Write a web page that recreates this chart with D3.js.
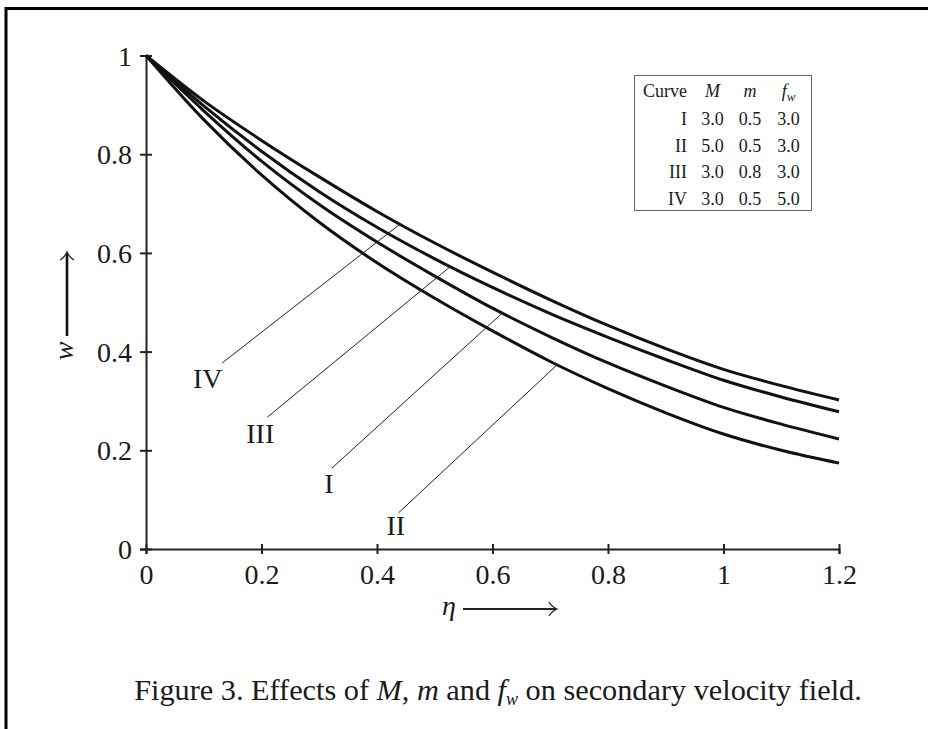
<!DOCTYPE html>
<html>
<head>
<meta charset="utf-8">
<script src="https://cdn.jsdelivr.net/npm/d3@7"></script>
<style>
  body { margin: 0; background: #fff; }
  svg { display: block; }
  text { font-family: "Liberation Serif", "DejaVu Serif", serif; fill: #1a1a1a; }
</style>
</head>
<body>
<div id="chart"></div>
<script>
var eta = [0, 0.1, 0.2, 0.3, 0.4, 0.5, 0.6, 0.7, 0.8, 0.9, 1.0, 1.1, 1.2];
// secondary velocity w for each curve
var curveI   = [1, 0.888, 0.786, 0.698, 0.622, 0.553, 0.488, 0.430, 0.377, 0.330, 0.287, 0.253, 0.223];
var curveII  = [1, 0.870, 0.758, 0.662, 0.580, 0.508, 0.442, 0.380, 0.325, 0.276, 0.233, 0.200, 0.174];
var curveIII = [1, 0.898, 0.806, 0.724, 0.652, 0.588, 0.530, 0.477, 0.429, 0.384, 0.342, 0.308, 0.278];
var curveIV  = [1, 0.908, 0.828, 0.754, 0.684, 0.620, 0.561, 0.505, 0.453, 0.406, 0.364, 0.331, 0.302];

var curveNames = ["I", "II", "III", "IV"];
var curveValues = [curveI, curveII, curveIII, curveIV];

// legend table
var tableHeader = ["Curve", "M", "m", "f"];
var tableM  = ["3.0", "5.0", "3.0", "3.0"];
var tableSm = ["0.5", "0.5", "0.8", "0.5"];
var tableFw = ["3.0", "3.0", "3.0", "5.0"];

// leader lines: label end (eta, w) and the eta where the leader touches its curve
var leaderStartEta = [0.322, 0.437, 0.210, 0.132];
var leaderStartW   = [0.164, 0.073, 0.267, 0.377];
var leaderEndEta   = [0.617, 0.712, 0.527, 0.440];

var xTicks = [0, 0.2, 0.4, 0.6, 0.8, 1, 1.2];
var yTicks = [0, 0.2, 0.4, 0.6, 0.8, 1];

var width = 928, height = 729;

var svg = d3.select("#chart")
	.append("svg")
	.attr("width", width)
	.attr("height", height);

// page frame (top and left edge of the scanned box)
svg.append("path")
	.attr("d", "M6," + height + "V8.5H" + width)
	.attr("fill", "none")
	.attr("stroke", "#000")
	.attr("stroke-width", 3);

var x = d3.scaleLinear().domain([0, 1.2]).range([146, 839]);
var y = d3.scaleLinear().domain([0, 1]).range([549, 55.5]);

// x axis
var xAxis = svg.append("g")
	.attr("transform", "translate(0," + y(0) + ")")
	.call(d3.axisBottom(x).tickValues(xTicks).tickSizeOuter(0).tickSize(5).tickFormat(function(d) { return String(d); }));
xAxis.select(".domain").attr("stroke", "#222").attr("stroke-width", 2);
xAxis.selectAll(".tick line").attr("y1", -5).attr("y2", 5).attr("stroke", "#222").attr("stroke-width", 2);
xAxis.selectAll(".tick text")
	.attr("y", 35).attr("dy", null)
	.style("font-size", "28px").style("font-family", "Liberation Serif").attr("fill", "#1a1a1a");

// y axis
var yAxis = svg.append("g")
	.attr("transform", "translate(" + x(0) + ",0)")
	.call(d3.axisLeft(y).tickValues(yTicks).tickSizeOuter(0).tickSize(6).tickFormat(function(d) { return String(d); }));
yAxis.select(".domain").attr("stroke", "#222").attr("stroke-width", 2);
yAxis.selectAll(".tick line").attr("x1", -6).attr("x2", 6).attr("stroke", "#222").attr("stroke-width", 2);
yAxis.selectAll(".tick text")
	.attr("x", -14).attr("dy", "0.34em")
	.style("font-size", "28px").style("font-family", "Liberation Serif").attr("fill", "#1a1a1a");

// axis titles with long arrows
svg.append("text")
	.attr("x", 449).attr("y", 615)
	.attr("text-anchor", "middle")
	.style("font-size", "28px").style("font-style", "italic")
	.text("η");
svg.append("line")
	.attr("x1", 463).attr("x2", 556).attr("y1", 609).attr("y2", 609)
	.attr("stroke", "#222").attr("stroke-width", 1.8);
svg.append("path")
	.attr("d", "M549,602 Q552,607 557,609 Q552,611 549,616")
	.attr("fill", "none").attr("stroke", "#222").attr("stroke-width", 1.3);

svg.append("text")
	.attr("transform", "translate(73,351) rotate(-90)")
	.attr("text-anchor", "middle")
	.style("font-size", "28px").style("font-style", "italic")
	.text("w");
svg.append("line")
	.attr("x1", 67).attr("x2", 67).attr("y1", 336).attr("y2", 253)
	.attr("stroke", "#111").attr("stroke-width", 2.6);
svg.append("path")
	.attr("d", "M60,260 Q65,257 67,252 Q69,257 74,260")
	.attr("fill", "none").attr("stroke", "#222").attr("stroke-width", 1.3);

// the four curves
var line = d3.line()
	.x(function(d) { return x(d[0]); })
	.y(function(d) { return y(d[1]); })
	.curve(d3.curveMonotoneX);

svg.selectAll(".curve")
	.data(curveValues)
	.enter().append("path")
	.attr("class", "curve")
	.attr("d", function(vals) { return line(vals.map(function(v, i) { return [eta[i], v]; })); })
	.attr("fill", "none")
	.attr("stroke", "#111")
	.attr("stroke-width", 3)
	.attr("stroke-linejoin", "round");

// w on a curve at any eta (linear between read points)
function valueAt(vals, e) {
	var i = d3.bisectRight(eta, e) - 1;
	if (i >= eta.length - 1) return vals[vals.length - 1];
	var t = (e - eta[i]) / (eta[i + 1] - eta[i]);
	return vals[i] + t * (vals[i + 1] - vals[i]);
}

// leader lines and roman labels
var labelDx = [-3, -2.5, -7, -14.5];
var labelDy = [25, 22, 26, 25];
curveNames.forEach(function(name, i) {
	var x0 = x(leaderStartEta[i]), y0 = y(leaderStartW[i]);
	var x1 = x(leaderEndEta[i]), y1 = y(valueAt(curveValues[i], leaderEndEta[i]));
	svg.append("line")
		.attr("x1", x0).attr("y1", y0).attr("x2", x1).attr("y2", y1)
		.attr("stroke", "#222").attr("stroke-width", 1);
	svg.append("text")
		.attr("x", x0 + labelDx[i]).attr("y", y0 + labelDy[i])
		.attr("text-anchor", "middle")
		.style("font-size", "28px")
		.text(name);
});

// legend table
var tbl = svg.append("g").attr("class", "legend");
tbl.append("rect")
	.attr("x", 634.5).attr("y", 75.5).attr("width", 177).attr("height", 135)
	.attr("fill", "#fff").attr("stroke", "#666").attr("stroke-width", 1);

var colX = [687, 712.5, 750, 788.5];
var rowY = [96.5, 125, 151.7, 178.3, 205];

tbl.append("text").attr("x", colX[0]).attr("y", rowY[0]).attr("text-anchor", "end")
	.style("font-size", "18px").text(tableHeader[0]);
tbl.append("text").attr("x", colX[1]).attr("y", rowY[0]).attr("text-anchor", "middle")
	.style("font-size", "18px").style("font-style", "italic").text(tableHeader[1]);
tbl.append("text").attr("x", colX[2]).attr("y", rowY[0]).attr("text-anchor", "middle")
	.style("font-size", "18px").style("font-style", "italic").text(tableHeader[2]);
var fh = tbl.append("text").attr("x", colX[3]).attr("y", rowY[0]).attr("text-anchor", "middle")
	.style("font-size", "18px").style("font-style", "italic");
fh.append("tspan").text(tableHeader[3]);
fh.append("tspan").attr("dy", 4).style("font-size", "13px").text("w");

curveNames.forEach(function(name, i) {
	var ry = rowY[i + 1];
	tbl.append("text").attr("x", colX[0]).attr("y", ry).attr("text-anchor", "end")
		.style("font-size", "18px").text(name);
	[tableM[i], tableSm[i], tableFw[i]].forEach(function(v, j) {
		tbl.append("text").attr("x", colX[j + 1]).attr("y", ry).attr("text-anchor", "middle")
			.style("font-size", "18px").text(v);
	});
});

// caption
var cap = svg.append("text")
	.attr("x", 498).attr("y", 700)
	.attr("text-anchor", "middle")
	.style("font-size", "26px");
cap.append("tspan").text("Figure 3. Effects of ");
cap.append("tspan").style("font-style", "italic").text("M");
cap.append("tspan").text(", ");
cap.append("tspan").style("font-style", "italic").text("m");
cap.append("tspan").text(" and ");
cap.append("tspan").style("font-style", "italic").text("f");
cap.append("tspan").style("font-style", "italic").style("font-size", "18px").attr("dy", 5).text("w");
cap.append("tspan").attr("dy", -5).text(" on secondary velocity field.");

// stretch caption to the width of the original line
var capLen = cap.node().getComputedTextLength();
if (capLen > 0) {
	var fs = 26 * 730 / capLen;
	cap.style("font-size", fs + "px");
}
</script>
</body>
</html>
